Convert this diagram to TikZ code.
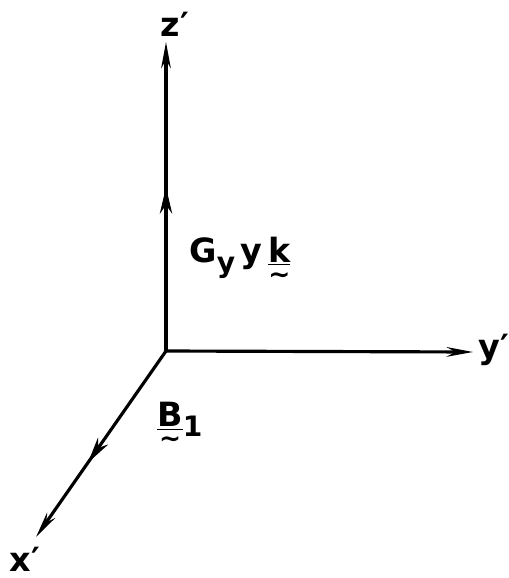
\documentclass[tikz,border=0pt]{standalone}
\usepackage{fontspec}
\setmainfont{DejaVu Sans}
\usetikzlibrary{arrows.meta, decorations.markings}
\newcommand{\tvec}[1]{\ooalign{\underline{#1}\cr\hidewidth\raisebox{-0.62em}{\fontsize{15}{15}\selectfont\char"223C}\hidewidth\cr}}

\begin{document}
\begin{tikzpicture}[
  x=0.02cm, y=-0.02cm,
  axis/.style={line width=1.8pt, -{Stealth[length=15pt, width=5.5pt]}},
  midarr/.style={postaction={decorate}, decoration={markings,
    mark=at position #1 with {\arrow{Stealth[length=15pt, width=7pt]}}}},
  lbl/.style={font=\fontsize{19}{22}\selectfont\bfseries, inner sep=0pt}
]
\useasboundingbox (0,0) rectangle (509,578);

\coordinate (O) at (166,351);
\coordinate (zend) at (166,42);
\coordinate (yend) at (473,352);
\coordinate (xend) at (36,537);

\draw[axis, midarr=0.53] (O) -- (zend);
\draw[axis] (O) -- (yend);
\draw[axis, midarr=0.6] (O) -- (xend);

\node[lbl] (zlab) at (175,24) {z′};
\node[lbl] (ylab) at (494,350) {y′};
\node[lbl] (xlab) at (25,559) {x′};

% force and body labels
\node[lbl] (Glab) at (240,260) {G\raisebox{-0.3em}{\fontsize{16}{16}\selectfont y}\,y\,\tvec{k}};
\node[lbl] (Blab) at (180,425) {\tvec{B}\raisebox{-0.3em}{\fontsize{16}{16}\selectfont 1}};
\end{tikzpicture}
\end{document}
